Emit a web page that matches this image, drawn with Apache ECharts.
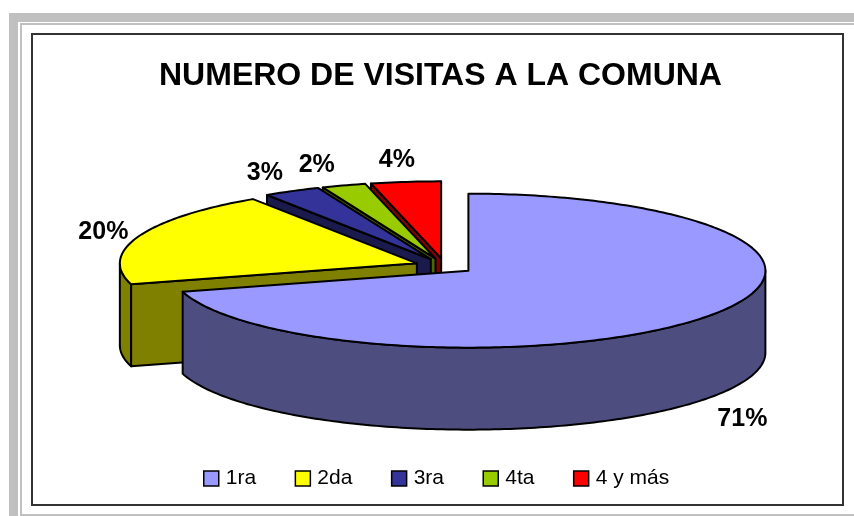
<!DOCTYPE html>
<html>
<head>
<meta charset="utf-8">
<style>
    html, body { margin: 0; padding: 0; background: #ffffff; }
    #chart { width: 854px; height: 516px; }
</style>
<script src="https://cdn.jsdelivr.net/npm/echarts@6/dist/echarts.min.js"></script>
</head>
<body>
<div id="chart"></div>
<script>
    const titleText = 'NUMERO DE VISITAS A LA COMUNA'
    const categories = ['1ra', '2da', '3ra', '4ta', '4 y más']
    const values = [70.6, 20.1, 3.1, 2.4, 3.8]
    const topColors = ['#9999ff', '#ffff00', '#333399', '#99cc00', '#ff0000']
    const sideColors = ['#4d4d80', '#808000', '#1a1a4d', '#4d6600', '#800000']
    // label shift from the rim point at the middle of each slice
    const labelShift = [[37, 102], [-35, -4], [-27, -18], [-27, -20], [-9, -22]]

    // fake 3d pie: flattened circle, exploded by 10% of the radius
    const cx = 444.7
    const cy = 266
    const rx = 297
    const ry = 77
    const depth = 82
    const explode = 0.1
    const total = values.reduce((a, b) => a + b, 0)

    const rad = deg => deg * Math.PI / 180

    // angles run clockwise from 12 o'clock
    function rim(center, deg, down) {
        return [
            center[0] + rx * Math.sin(rad(deg)),
            center[1] - ry * Math.cos(rad(deg)) + (down || 0)
        ]
    }

    function arc(center, from, to, down) {
        const pts = []
        for (let a = from; a < to; a += 1) {
            pts.push(rim(center, a, down))
        }
        pts.push(rim(center, to, down))
        return pts
    }

    function renderSlice(index) {
        return function (params, api) {
            const value = api.value(0)
            let before = 0
            for (let i = 0; i < index; i++) {
                before += values[i]
            }
            const start = before / total * 360
            const end = start + value / total * 360
            const mid = (start + end) / 2
            const center = [
                cx + explode * rx * Math.sin(rad(mid)),
                cy - explode * ry * Math.cos(rad(mid))
            ]
            const line = { stroke: '#000000', lineWidth: 2, lineJoin: 'round' }
            const children = []

            // outer wall, only the front half of the rim can be seen
            const wallFrom = Math.max(start, 90)
            const wallTo = Math.min(end, 270)
            if (wallFrom < wallTo) {
                children.push({
                    type: 'polygon',
                    shape: { points: arc(center, wallFrom, wallTo).concat(arc(center, wallFrom, wallTo, depth).reverse()) },
                    style: Object.assign({ fill: sideColors[index] }, line)
                })
            }
            // cut face on the start side
            if (Math.cos(rad(start - 90)) < -1e-6) {
                children.push({
                    type: 'polygon',
                    shape: { points: [center, rim(center, start), rim(center, start, depth), [center[0], center[1] + depth]] },
                    style: Object.assign({ fill: sideColors[index] }, line)
                })
            }
            // top face
            children.push({
                type: 'polygon',
                shape: { points: [center].concat(arc(center, start, end)) },
                style: Object.assign({ fill: topColors[index] }, line)
            })
            // percent label
            const p = rim(center, mid)
            children.push({
                type: 'text',
                x: p[0] + labelShift[index][0],
                y: p[1] + labelShift[index][1],
                style: {
                    text: Math.round(value) + '%',
                    fill: '#000000',
                    font: 'bold 25px "Liberation Sans", Arial, sans-serif',
                    align: 'center',
                    verticalAlign: 'middle'
                }
            })
            return { type: 'group', children: children }
        }
    }

    const mChart = echarts.init(document.getElementById('chart'))
    const option = {
        animation: false,
        backgroundColor: '#ffffff',
        title: {
            text: titleText,
            left: 159,
            top: 60,
            padding: 0,
            textStyle: {
                color: '#000000',
                fontFamily: '"Liberation Sans", Arial, sans-serif',
                fontWeight: 'bold',
                fontSize: 32
            }
        },
        legend: {
            left: 203,
            top: 468,
            padding: 0,
            itemGap: 38.5,
            itemWidth: 15,
            itemHeight: 15,
            icon: 'rect',
            selectedMode: false,
            itemStyle: { borderColor: '#000000', borderWidth: 1.5 },
            textStyle: {
                color: '#000000',
                fontFamily: '"Liberation Sans", Arial, sans-serif',
                fontSize: 21,
                padding: [0, 0, 0, 2]
            },
            data: categories
        },
        graphic: [
            // grey window frame round the chart
            { type: 'rect', silent: true, shape: { x: 9, y: 13, width: 845, height: 9 }, style: { fill: '#c0c0c0' } },
            { type: 'rect', silent: true, shape: { x: 9, y: 13, width: 9, height: 503 }, style: { fill: '#c0c0c0' } },
            { type: 'rect', silent: true, shape: { x: 20, y: 23, width: 834, height: 2 }, style: { fill: '#c0c0c0' } },
            { type: 'rect', silent: true, shape: { x: 20, y: 23, width: 2, height: 493 }, style: { fill: '#c0c0c0' } },
            { type: 'rect', silent: true, shape: { x: 20, y: 514, width: 834, height: 2 }, style: { fill: '#c0c0c0' } },
            { type: 'rect', silent: true, shape: { x: 32, y: 34, width: 811, height: 471 }, style: { fill: 'none', stroke: '#333333', lineWidth: 2 } }
        ],
        // back slices first so the nearer ones paint over them
        series: categories.map((name, i) => ({
            type: 'custom',
            name: name,
            coordinateSystem: 'none',
            silent: true,
            z: 10 + categories.length - i,
            itemStyle: { color: topColors[i] },
            renderItem: renderSlice(i),
            data: [[values[i]]]
        }))
    }
    mChart.setOption(option)
</script>
</body>
</html>
